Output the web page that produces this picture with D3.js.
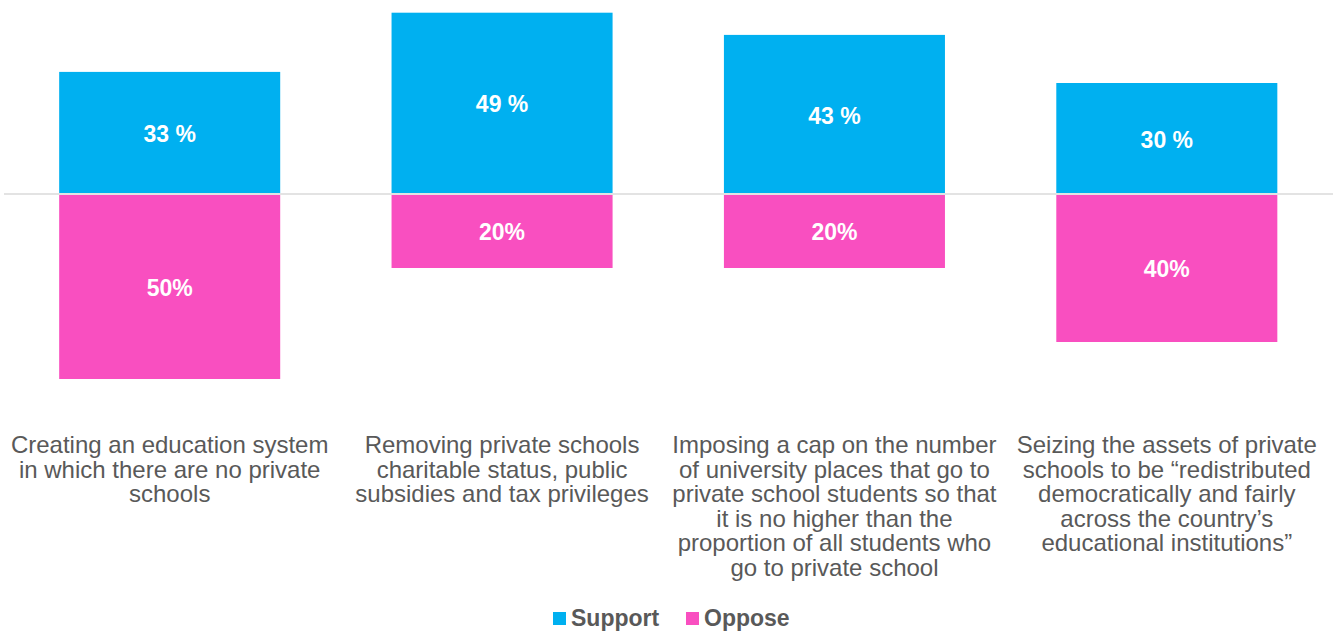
<!DOCTYPE html>
<html>
<head>
<meta charset="utf-8">
<script src="https://cdn.jsdelivr.net/npm/d3@7"></script>
<style>
  body { margin: 0; background: #fff; }
  text { font-family: "Liberation Sans", Arial, sans-serif; }
</style>
</head>
<body>
<div id="chart"></div>
<script>
// data
var categories = [
    ["Creating an education system", "in which there are no private", "schools"],
    ["Removing private schools", "charitable status, public", "subsidies and tax privileges"],
    ["Imposing a cap on the number", "of university places that go to", "private school students so that", "it is no higher than the", "proportion of all students who", "go to private school"],
    ["Seizing the assets of private", "schools to be \u201credistributed", "democratically and fairly", "across the country\u2019s", "educational institutions\u201d"]
];
var support = [33, 49, 43, 30];
var oppose = [50, 20, 20, 40];
var supportLabels = ["33 %", "49 %", "43 %", "30 %"];
var opposeLabels = ["50%", "20%", "20%", "40%"];
var seriesNames = ["Support", "Oppose"];

var width = 1336, height = 631;
var supportColor = "#00B0F0", opposeColor = "#F94FC0", textColor = "#595959";
var base = 194;

var svg = d3.select("#chart").append("svg")
    .attr("width", width)
    .attr("height", height);

var idx = d3.range(categories.length);
var xscale = d3.scaleBand()
    .domain(idx)
    .range([3.5, 1333])
    .paddingInner(0.335)
    .paddingOuter(0.1675);

var yscale = d3.scaleLinear()
    .domain([-60, 60])
    .range([base + 222, base - 222]);

// baseline
svg.append("line")
    .attr("x1", 4).attr("x2", 1333)
    .attr("y1", base).attr("y2", base)
    .attr("stroke", "#e3e3e3")
    .attr("stroke-width", 2);

// support bars
svg.selectAll("rect.sup")
    .data(idx)
    .enter()
    .append("rect")
    .attr("class", "sup")
    .attr("x", d => xscale(d))
    .attr("y", d => yscale(support[d]))
    .attr("width", xscale.bandwidth())
    .attr("height", d => yscale(0) - 1 - yscale(support[d]))
    .attr("fill", supportColor);

// oppose bars
svg.selectAll("rect.opp")
    .data(idx)
    .enter()
    .append("rect")
    .attr("class", "opp")
    .attr("x", d => xscale(d))
    .attr("y", yscale(0) + 1)
    .attr("width", xscale.bandwidth())
    .attr("height", d => yscale(-oppose[d]) - yscale(0) - 1)
    .attr("fill", opposeColor);

// value labels
svg.selectAll("text.sv")
    .data(idx)
    .enter()
    .append("text")
    .attr("x", d => xscale(d) + xscale.bandwidth() / 2)
    .attr("y", d => (yscale(support[d]) + yscale(0)) / 2 + 1)
    .attr("dy", "0.35em")
    .attr("text-anchor", "middle")
    .style("font-size", "23px")
    .style("font-weight", "bold")
    .attr("fill", "#fff")
    .text(d => supportLabels[d]);

svg.selectAll("text.ov")
    .data(idx)
    .enter()
    .append("text")
    .attr("x", d => xscale(d) + xscale.bandwidth() / 2)
    .attr("y", d => (yscale(-oppose[d]) + yscale(0)) / 2 + 1)
    .attr("dy", "0.35em")
    .attr("text-anchor", "middle")
    .style("font-size", "23px")
    .style("font-weight", "bold")
    .attr("fill", "#fff")
    .text(d => opposeLabels[d]);

// category labels
var catText = svg.selectAll("text.cat")
    .data(idx)
    .enter()
    .append("text")
    .attr("class", "cat")
    .attr("text-anchor", "middle")
    .style("font-size", "24px")
    .attr("fill", textColor);

catText.each(function(d) {
    var t = d3.select(this);
    var cx = xscale(d) + xscale.bandwidth() / 2;
    categories[d].forEach(function(line, i) {
        t.append("tspan")
            .attr("x", cx)
            .attr("y", 453 + i * 24.5)
            .text(line);
    });
});

// legend
var legend = svg.append("g");
var legendX = [553, 686];
var legendColors = [supportColor, opposeColor];
seriesNames.forEach(function(name, i) {
    legend.append("rect")
        .attr("x", legendX[i])
        .attr("y", 612)
        .attr("width", 13)
        .attr("height", 13)
        .attr("fill", legendColors[i]);
    legend.append("text")
        .attr("x", legendX[i] + 18)
        .attr("y", 626)
        .style("font-size", "23px")
        .style("font-weight", "bold")
        .attr("fill", textColor)
        .text(name);
});
</script>
</body>
</html>
